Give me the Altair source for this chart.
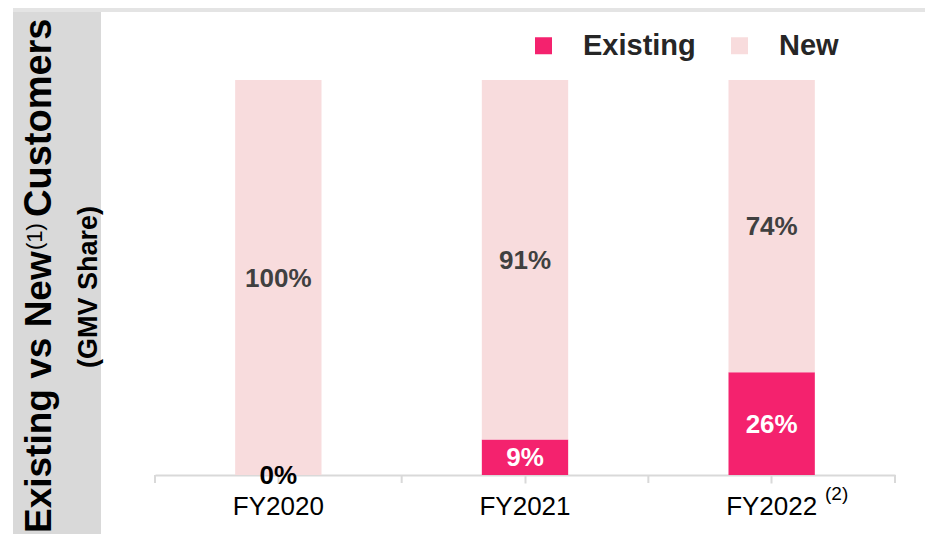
import altair as alt
import pandas as pd

years = ["FY2020", "FY2021", "FY2022"]
existing_share = [0, 9, 26]
new_share = [100, 91, 74]
segments = ["Existing", "New"]
seg_colors = ["#f4226e", "#f8dcdd"]

rows = []
for i, y in enumerate(years):
    rows.append({"year": y, "segment": "Existing", "value": existing_share[i], "ord": 0})
    rows.append({"year": y, "segment": "New", "value": new_share[i], "ord": 1})
df = pd.DataFrame(rows)
one = pd.DataFrame({"k": [0]})
# category boundaries (between bands), as band indices
bounds = pd.DataFrame({"b": list(range(len(years) + 1))})

W, H = 740, 395
FONT = "Liberation Sans"

xscale = alt.Scale(paddingInner=0.65, paddingOuter=0.325)
xenc = alt.X("year:N", sort=years, title=None, scale=xscale,
             axis=alt.Axis(labelAngle=0))

base = alt.Chart(df).transform_stack(
    stack="value", groupby=["year"], as_=["v0", "v1"],
    sort=[alt.SortField("ord", order="ascending")]
).transform_calculate(
    mid="(datum.v0 + datum.v1) / 2",
    label="datum.value + '%'",
    lc="datum.value == 0 ? '#000000' : (datum.segment == 'Existing' ? '#ffffff' : '#404040')",
)

bars = base.mark_bar().encode(
    x=xenc,
    y=alt.Y("v0:Q", scale=alt.Scale(domain=[0, 100]), axis=None),
    y2="v1:Q",
    color=alt.Color("segment:N", scale=alt.Scale(domain=segments, range=seg_colors),
                    legend=alt.Legend(title=None, orient="none", legendX=374, legendY=-49,
                                      direction="horizontal", symbolType="square",
                                      symbolSize=289, symbolStrokeWidth=0,
                                      labelFont=FONT, labelFontSize=29,
                                      labelFontWeight="bold", labelColor="#262626",
                                      labelOffset=25, columnPadding=29, padding=0)),
    order=alt.Order("ord:Q"),
)

labels = base.mark_text(font=FONT, fontSize=26, fontWeight="bold", baseline="middle", dy=1).encode(
    x=alt.X("year:N", sort=years),
    y=alt.Y("mid:Q", scale=alt.Scale(domain=[0, 100])),
    text="label:N",
    color=alt.Color("lc:N", scale=None),
)

main = alt.layer(bars, labels)

edge_ticks = alt.Chart(bounds).mark_rule(color="#d9d9d9", strokeWidth=2).encode(
    x=alt.X("b:Q", scale=alt.Scale(domain=[0, len(years)], nice=False, zero=False), axis=None),
    y=alt.value(H), y2=alt.value(H + 8))

grey_band = alt.Chart(one).mark_rect(color="#d9d9d9").encode(
    x=alt.value(-142), x2=alt.value(-54), y=alt.value(-68), y2=alt.value(460))
top_line = alt.Chart(one).mark_rect(color="#e4e4e4").encode(
    x=alt.value(-142), x2=alt.value(780), y=alt.value(-72), y2=alt.value(-68))

t_kw = dict(angle=270, align="left", baseline="alphabetic", font=FONT, color="#000000")
title1 = alt.Chart(one).mark_text(fontSize=37, fontWeight="bold", text="Existing vs New", **t_kw).encode(
    x=alt.value(-104), y=alt.value(453))
title_sup = alt.Chart(one).mark_text(fontSize=22, text="(1)", **t_kw).encode(
    x=alt.value(-113), y=alt.value(170))
title2 = alt.Chart(one).mark_text(fontSize=38, fontWeight="bold", text="Customers", **t_kw).encode(
    x=alt.value(-104), y=alt.value(137))
subtitle = alt.Chart(one).mark_text(angle=270, align="center", baseline="alphabetic", font=FONT,
                                    fontSize=27, fontWeight="bold", color="#000000",
                                    text="(GMV Share)").encode(
    x=alt.value(-58), y=alt.value(207))
sup2 = alt.Chart(one).mark_text(align="left", baseline="alphabetic", font=FONT, fontSize=19,
                                color="#000000", text="(2)").encode(
    x=alt.value(670), y=alt.value(420))

chart = alt.layer(
    grey_band, top_line, title1, title_sup, title2, subtitle, sup2, edge_ticks, main
).resolve_scale(x="independent").properties(
    width=W, height=H,
    autosize=alt.AutoSizeParams(type="none"),
    padding={"left": 147, "top": 72, "right": 30, "bottom": 59},
).configure_view(stroke=None).configure_axis(
    domainColor="#d9d9d9", domainWidth=2, tickColor="#d9d9d9", tickWidth=2, tickSize=8,
    labelFont=FONT, labelFontSize=26, labelColor="#000000", labelPadding=10, grid=False,
)

chart.save("out.html", embed_options={"renderer": "svg", "actions": False})
